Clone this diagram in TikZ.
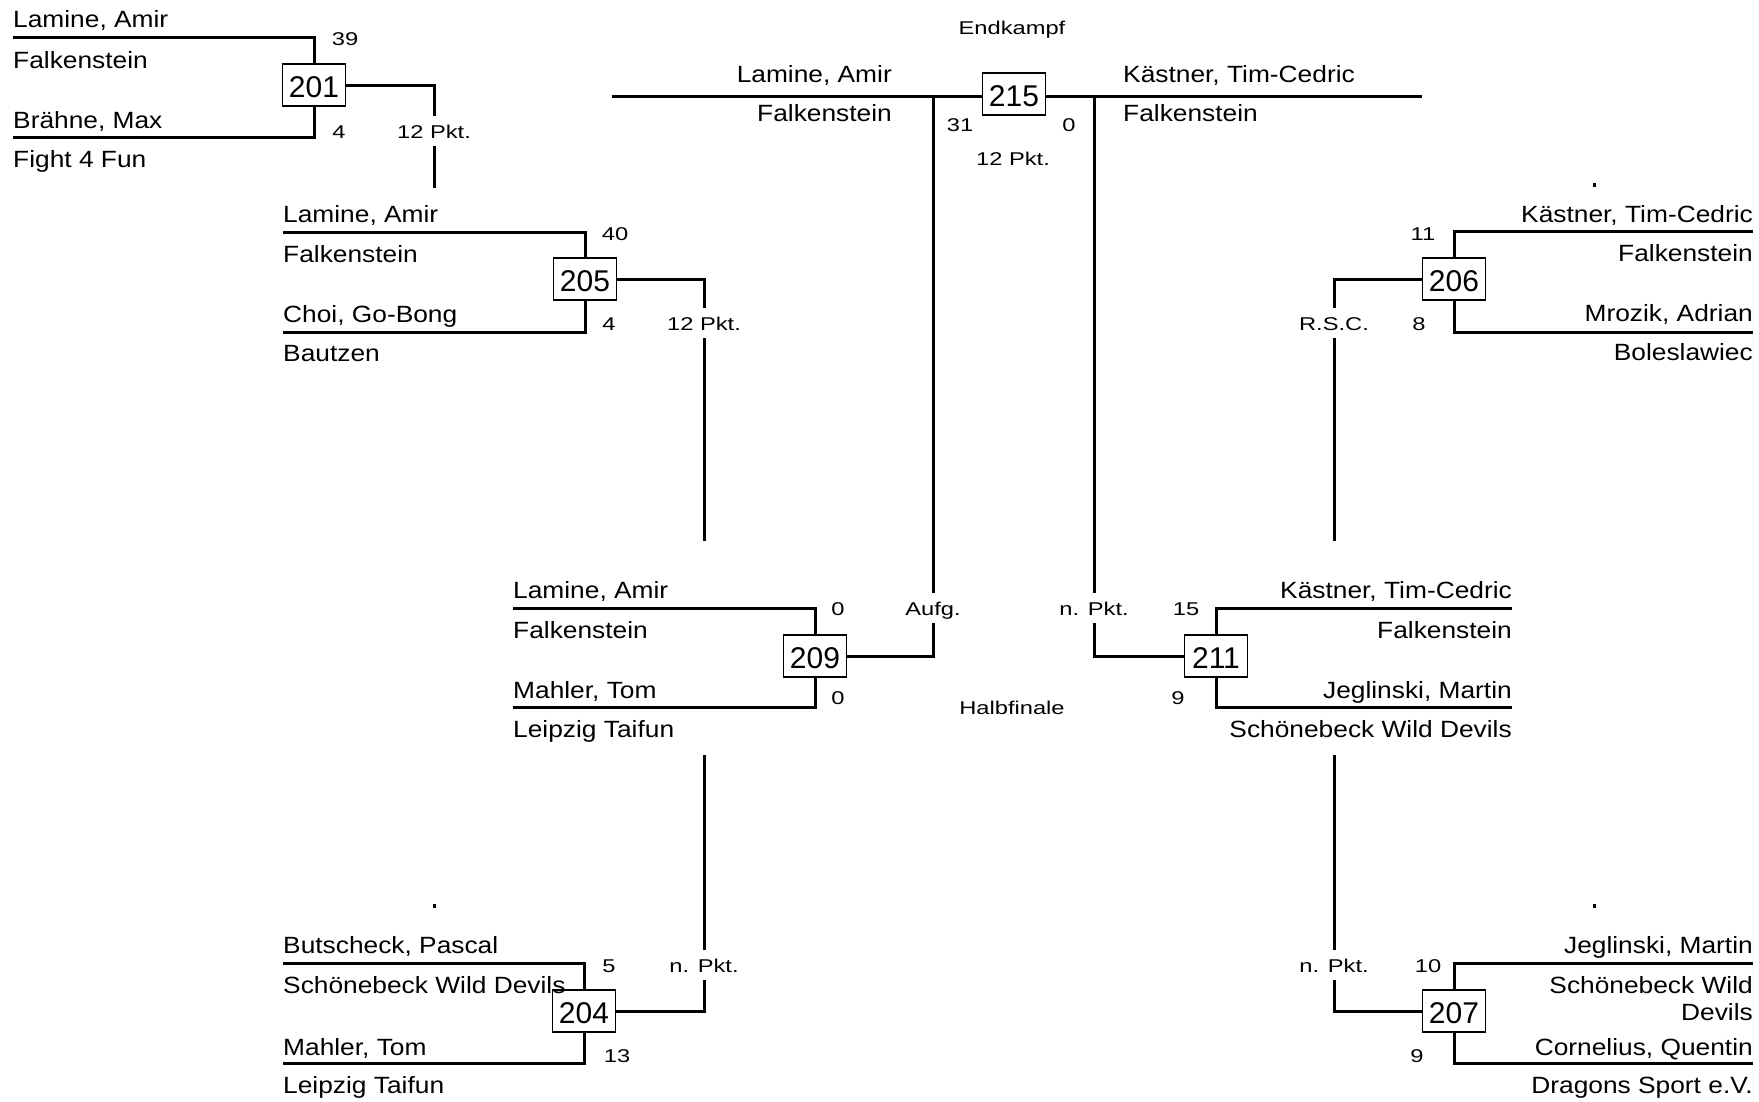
\documentclass[tikz,border=0pt]{standalone}
\usepackage{fontspec}
\setmainfont{Liberation Sans}
\newfontfamily\namefont[FakeStretch=1.12]{Liberation Sans}
\newfontfamily\lblfont[FakeStretch=1.28]{Liberation Sans}
\begin{document}
\begin{tikzpicture}[x=1pt,y=-1pt,
  wire/.style={line width=3pt},
  nm/.style={inner sep=0pt, font=\namefont\fontsize{23.5}{28}\selectfont},
  nmL/.style={nm, anchor=base west},
  nmR/.style={nm, anchor=base east},
  sc/.style={inner sep=0pt, anchor=base, font=\lblfont\fontsize{18.5}{22}\selectfont},
  gap/.style={sc, anchor=center, fill=white, inner xsep=3pt, inner ysep=0pt, minimum height=30pt, text height=13.3pt, text depth=0pt},
  mbox/.style={draw, line width=1.2pt, fill=white, minimum width=63pt, minimum height=42pt, inner sep=0pt, text height=24pt, text depth=0pt, font=\fontsize{30}{32}\selectfont}]
\useasboundingbox (0,0) rectangle (1759,1101);
\fill[white] (0,0) rectangle (1759,1101);

% ---------- coordinates ----------
\coordinate (t201) at (13,37);   \coordinate (u201) at (13,137);   \coordinate (e201) at (434,188);
\coordinate (t205) at (283,232); \coordinate (u205) at (283,332); \coordinate (e205) at (704,541);
\coordinate (t209) at (513,608); \coordinate (u209) at (513,707); \coordinate (f209) at (933,96.5);
\coordinate (t204) at (283,963); \coordinate (u204) at (283,1063); \coordinate (e204) at (704,755);
\coordinate (t211) at (1512,608); \coordinate (u211) at (1512,707); \coordinate (f211) at (1094,96.5);
\coordinate (t206) at (1753,231); \coordinate (u206) at (1753,332); \coordinate (e206) at (1334,541);
\coordinate (t207) at (1753,963); \coordinate (u207) at (1753,1063); \coordinate (e207) at (1334,755);
\coordinate (fl) at (612,96.5); \coordinate (fr) at (1422,96.5);

% ---------- final line ----------
\draw[wire] (fl) -- (fr);

% ---------- boxes ----------
\node[mbox] (b201) at (314,85) {201};
\node[mbox] (b205) at (585,279) {205};
\node[mbox] (b209) at (815,656) {209};
\node[mbox] (b204) at (584,1011) {204};
\node[mbox] (b211) at (1216,656) {211};
\node[mbox] (b206) at (1454,279) {206};
\node[mbox] (b207) at (1454,1011) {207};
\node[mbox] (b215) at (1014,94) {215};

% ---------- wires ----------
\draw[wire] (t201) -| (b201.north);  \draw[wire] (u201) -| (b201.south);  \draw[wire] (b201.east) -| (e201);
\draw[wire] (t205) -| (b205.north);  \draw[wire] (u205) -| (b205.south);  \draw[wire] (b205.east) -| (e205);
\draw[wire] (t209) -| (b209.north);  \draw[wire] (u209) -| (b209.south);  \draw[wire] (b209.east) -| (f209);
\draw[wire] (t204) -| (b204.north);  \draw[wire] (u204) -| (b204.south);  \draw[wire] (b204.east) -| (e204);
\draw[wire] (t211) -| (b211.north);  \draw[wire] (u211) -| (b211.south);  \draw[wire] (b211.west) -| (f211);
\draw[wire] (t206) -| (b206.north);  \draw[wire] (u206) -| (b206.south);  \draw[wire] (b206.west) -| (e206);
\draw[wire] (t207) -| (b207.north);  \draw[wire] (u207) -| (b207.south);  \draw[wire] (b207.west) -| (e207);

% ---------- small marks ----------
\fill (432.5,904) rectangle (435.5,908);
\fill (1592.5,183) rectangle (1595.5,187);
\fill (1592.5,904) rectangle (1595.5,908);

% ---------- names: 201 ----------
\node[nmL] (n201a) at (13,27) {Lamine, Amir};
\node[nmL] (c201a) at (13,68) {Falkenstein};
\node[nmL] (n201b) at (13,128) {Brähne, Max};
\node[nmL] (c201b) at (13,167) {Fight 4 Fun};
\node[sc] (s201a) at (345,45) {39};
\node[sc] (s201b) at (339,138) {4};
\node[gap] (r201) at (434,131.4) {12 Pkt.};

% ---------- 205 ----------
\node[nmL] (n205a) at (283,222) {Lamine, Amir};
\node[nmL] (c205a) at (283,262) {Falkenstein};
\node[nmL] (n205b) at (283,322) {Choi, Go-Bong};
\node[nmL] (c205b) at (283,361) {Bautzen};
\node[sc] (s205a) at (615,240) {40};
\node[sc] (s205b) at (609,330) {4};
\node[gap] (r205) at (704,323.4) {12 Pkt.};

% ---------- 209 ----------
\node[nmL] (n209a) at (513,598) {Lamine, Amir};
\node[nmL] (c209a) at (513,638) {Falkenstein};
\node[nmL] (n209b) at (513,698) {Mahler, Tom};
\node[nmL] (c209b) at (513,737) {Leipzig Taifun};
\node[sc] (s209a) at (838,615) {0};
\node[sc] (s209b) at (838,704) {0};
\node[gap] (r209) at (933,608.4) {Aufg.};
\node[sc] (half) at (1012,714) {Halbfinale};

% ---------- 204 ----------
\node[nmL] (n204a) at (283,953) {Butscheck, Pascal};
\node[nmL] (c204a) at (283,993) {Schönebeck Wild Devils};
\node[nmL] (n204b) at (283,1055) {Mahler, Tom};
\node[nmL] (c204b) at (283,1093) {Leipzig Taifun};
\node[sc] (s204a) at (609,972) {5};
\node[sc] (s204b) at (617,1062) {13};
\node[gap] (r204) at (704,965.4) {n. Pkt.};

% ---------- 215 ----------
\node[sc] (endk) at (1012,34) {Endkampf};
\node[nmR] (n215a) at (892,82) {Lamine, Amir};
\node[nmR] (c215a) at (892,121) {Falkenstein};
\node[nmL] (n215b) at (1123,82) {Kästner, Tim-Cedric};
\node[nmL] (c215b) at (1123,121) {Falkenstein};
\node[sc] (s215a) at (960,131) {31};
\node[sc] (s215b) at (1069,131) {0};
\node[sc] (r215) at (1013,165) {12 Pkt.};

% ---------- 211 ----------
\node[nmR] (n211a) at (1512,598) {Kästner, Tim-Cedric};
\node[nmR] (c211a) at (1512,638) {Falkenstein};
\node[nmR] (n211b) at (1512,698) {Jeglinski, Martin};
\node[nmR] (c211b) at (1512,737) {Schönebeck Wild Devils};
\node[sc] (s211a) at (1186,615) {15};
\node[sc] (s211b) at (1178,704) {9};
\node[gap] (r211) at (1094,608.4) {n. Pkt.};

% ---------- 206 ----------
\node[nmR] (n206a) at (1753,222) {Kästner, Tim-Cedric};
\node[nmR] (c206a) at (1753,261) {Falkenstein};
\node[nmR] (n206b) at (1753,321) {Mrozik, Adrian};
\node[nmR] (c206b) at (1753,360) {Boleslawiec};
\node[sc] (s206a) at (1423,240) {11};
\node[sc] (s206b) at (1419,330) {8};
\node[gap] (r206) at (1334,323.4) {R.S.C.};

% ---------- 207 ----------
\node[nmR] (n207a) at (1753,953) {Jeglinski, Martin};
\node[nmR] (c207a) at (1753,993) {Schönebeck Wild};
\node[nmR] (c207x) at (1753,1020) {Devils};
\node[nmR] (n207b) at (1753,1055) {Cornelius, Quentin};
\node[nmR] (c207b) at (1753,1093) {Dragons Sport e.V.};
\node[sc] (s207a) at (1428,972) {10};
\node[sc] (s207b) at (1417,1062) {9};
\node[gap] (r207) at (1334,965.4) {n. Pkt.};
\end{tikzpicture}
\end{document}
